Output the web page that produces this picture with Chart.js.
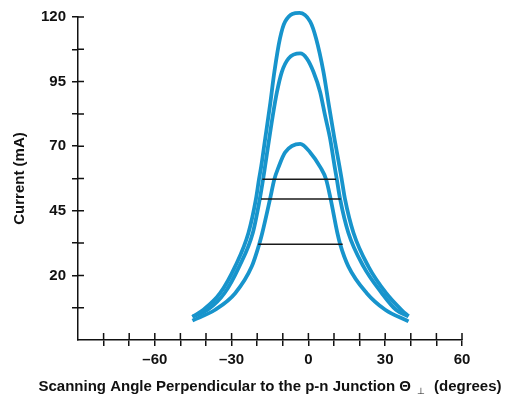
<!doctype html>
<html>
<head>
  <title>Current vs scanning angle</title>
  <script src="https://cdn.jsdelivr.net/npm/chart.js@4/dist/chart.umd.min.js"></script>
  <style>
    html, body { margin: 0; padding: 0; background: #fff; }
    #container { width: 505px; height: 395px; }
  </style>
</head>
<body>
<div id="container">
  <canvas id="canvas"></canvas>
</div>
<script>
  // curve A (tallest peak)
  var angleA   = [-45.3, -41, -34.5, -28.6, -23.4, -20.5, -19.3, -18.4, -16.9, -15.0, -13.3, -11.1, -9.1, -3.5, 0.7, 3.0, 5.9, 8.0, 10.2, 12.1, 13.0, 14.3, 17.6, 23.4, 30.4, 36.5, 39.1];
  var currentA = [4.0, 6.7, 13.1, 23.5, 36.5, 49.5, 57.2, 62.4, 72.8, 85.8, 98.7, 111.7, 118.2, 121.6, 118.2, 111.7, 98.7, 85.8, 72.8, 62.4, 57.2, 49.5, 36.5, 23.5, 13.1, 6.5, 4.2];
  // curve B (middle peak)
  var angleB   = [-45.3, -39.3, -32.8, -27.0, -21.7, -19.0, -17.7, -16.9, -13.9, -12.3, -10.4, -7.8, -3.2, -0.6, 2.0, 4.6, 6.5, 8.5, 10.2, 11.1, 12.4, 15.6, 21.5, 28.7, 34.2, 39.1];
  var currentB = [4.0, 6.7, 13.1, 23.5, 36.5, 49.5, 57.2, 62.4, 81.9, 90.9, 98.7, 103.9, 105.9, 103.9, 98.7, 90.9, 81.9, 72.8, 62.4, 57.2, 49.5, 36.5, 23.5, 13.1, 6.7, 4.2];
  // curve C (lowest peak)
  var angleC   = [-45.3, -36.4, -28.6, -22.1, -19.2, -18.0, -15.0, -13.3, -11.7, -9.1, -3.2, 0.7, 4.7, 6.9, 8.7, 11.3, 12.4, 15.6, 22.8, 30, 39.1];
  var currentC = [2.5, 6.7, 13.1, 23.5, 32.1, 36.5, 49.5, 57.2, 61.8, 67.6, 70.9, 67.6, 61.8, 57.2, 49.5, 36.5, 32.1, 23.5, 13.1, 6.7, 2.2];
  // horizontal width markers
  var markLevel = [57.2, 49.6, 32.1];
  var markLeft  = [-18, -18.5, -19.6];
  var markRight = [10.8, 12.6, 13.4];

  var xTicks  = [-90, -80, -70, -60, -50, -40, -30, -20, -10, 0, 10, 20, 30, 40, 50, 60];
  var xLabels = [-60, -30, 0, 30, 60];
  var yTicks  = [-5, 7.5, 20, 32.5, 45, 57.5, 70, 82.5, 95, 107.5, 120];
  var yLabels = [20, 45, 70, 95, 120];

  var BLUE = '#1794cc';
  var INK = '#111';
  var FONT = "'Liberation Sans', Arial, sans-serif";

  function pts(xs, ys) {
    return xs.map(function (x, i) { return { x: x, y: ys[i] }; });
  }

  var datasets = [];
  for (var i = 0; i < markLevel.length; i++) {
    datasets.push({
      data: [{ x: markLeft[i], y: markLevel[i] }, { x: markRight[i], y: markLevel[i] }],
      borderColor: '#1a1a1a',
      borderWidth: 1.5,
      pointRadius: 0,
      tension: 0
    });
  }
  [[angleA, currentA], [angleB, currentB], [angleC, currentC]].forEach(function (c) {
    datasets.push({
      data: pts(c[0], c[1]),
      borderColor: BLUE,
      borderWidth: 3.8,
      pointRadius: 0,
      clip: false,
      cubicInterpolationMode: 'monotone'
    });
  });

  // ticks cross the axis line, and the x title is drawn by hand so it is not squeezed
  var axisExtras = {
    id: 'axisExtras',
    afterDraw: function (chart) {
      var ctx = chart.ctx, xs = chart.scales.x, ys = chart.scales.y;
      ctx.save();
      ctx.strokeStyle = INK;
      ctx.lineWidth = 1.5;
      ctx.beginPath();
      xTicks.forEach(function (v) {
        if (v === xs.min) return;
        var px = xs.getPixelForValue(v);
        ctx.moveTo(px, xs.top);
        ctx.lineTo(px, xs.top - 7);
      });
      yTicks.forEach(function (v) {
        if (v === ys.min) return;
        var py = ys.getPixelForValue(v);
        ctx.moveTo(ys.right, py);
        ctx.lineTo(ys.right + 6, py);
      });
      ctx.stroke();

      var main = 'Scanning Angle Perpendicular to the p-n Junction \u0398';
      var sub = '\u22a5';
      var tail = '(degrees)';
      var big = 'bold 15px ' + FONT, small = '9px ' + FONT;
      ctx.font = big;
      var wMain = ctx.measureText(main).width, wTail = ctx.measureText(tail).width;
      ctx.font = small;
      var wSub = ctx.measureText(sub).width;
      var gap1 = 6, gap2 = 9;
      var total = wMain + gap1 + wSub + gap2 + wTail;
      var x0 = (chart.chartArea.left + chart.chartArea.right) / 2 - total / 2;
      var yb = 391;
      ctx.fillStyle = INK;
      ctx.textBaseline = 'alphabetic';
      ctx.textAlign = 'left';
      ctx.font = big;
      ctx.fillText(main, x0, yb);
      ctx.font = small;
      ctx.fillText(sub, x0 + wMain + gap1, yb + 3);
      ctx.font = big;
      ctx.fillText(tail, x0 + wMain + gap1 + wSub + gap2, yb);
      ctx.restore();
    }
  };

  function tickColor(min) {
    return function (c) { return c.tick && c.tick.value === min ? 'rgba(0,0,0,0)' : INK; };
  }

  window.onload = function () {
    var ctx = document.getElementById('canvas').getContext('2d');
    window.myChart = new Chart(ctx, {
      type: 'line',
      data: { datasets: datasets },
      plugins: [axisExtras],
      options: {
        responsive: true,
        maintainAspectRatio: false,
        animation: false,
        layout: { padding: { top: 17, right: 43, bottom: 0, left: 0 } },
        plugins: { legend: { display: false }, tooltip: { enabled: false } },
        scales: {
          x: {
            type: 'linear',
            min: -90,
            max: 60,
            afterBuildTicks: function (s) { s.ticks = xTicks.map(function (v) { return { value: v }; }); },
            afterFit: function (s) { s.height = 55; },
            grid: { drawOnChartArea: false, drawTicks: true, tickLength: 6, lineWidth: 1.5, color: tickColor(-90) },
            border: { display: true, color: INK, width: 1.5 },
            ticks: {
              autoSkip: false,
              maxRotation: 0,
              padding: 5,
              color: INK,
              font: { family: FONT, size: 15, weight: 'bold' },
              callback: function (v) {
                if (xLabels.indexOf(v) < 0) return '';
                return v < 0 ? '\u2013' + (-v) : String(v);
              }
            },
            title: { display: false }
          },
          y: {
            min: -5,
            max: 120,
            afterBuildTicks: function (s) { s.ticks = yTicks.map(function (v) { return { value: v }; }); },
            afterFit: function (s) { s.width = 78; },
            grid: { drawOnChartArea: false, drawTicks: true, tickLength: 6, lineWidth: 1.5, color: tickColor(-5) },
            border: { display: true, color: INK, width: 1.5 },
            ticks: {
              autoSkip: false,
              padding: 6,
              color: INK,
              font: { family: FONT, size: 15, weight: 'bold' },
              callback: function (v) { return yLabels.indexOf(v) < 0 ? '' : String(v); }
            },
            title: {
              display: true,
              text: 'Current (mA)',
              color: INK,
              font: { family: FONT, size: 15, weight: 'bold' },
              padding: { top: 11, bottom: 0 }
            }
          }
        }
      }
    });
  };
</script>
</body>
</html>
